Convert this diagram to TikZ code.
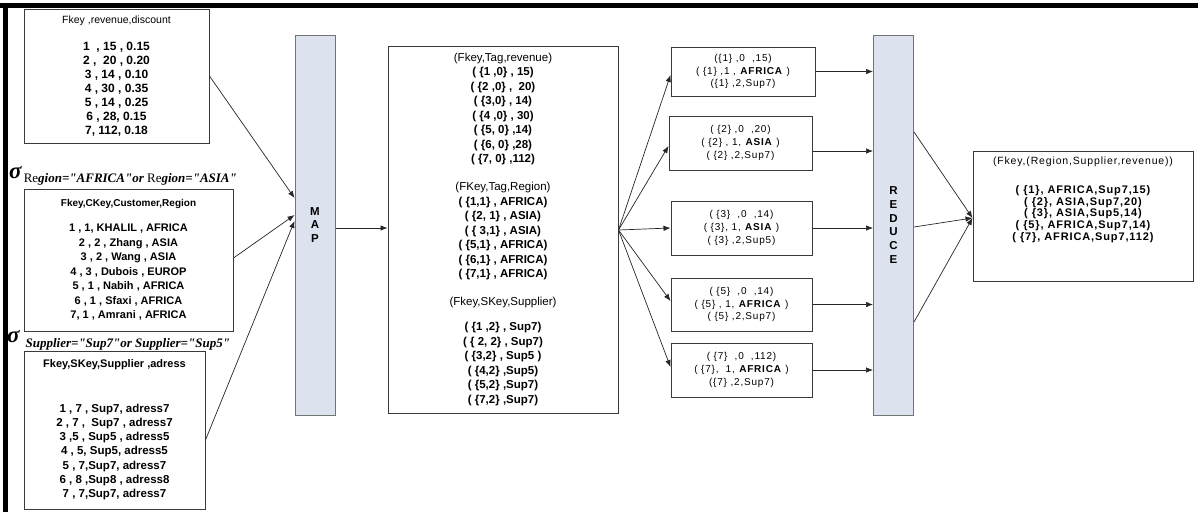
\documentclass[tikz,border=0pt]{standalone}
\usepackage{fontspec}
\setmainfont{Liberation Sans}
\newfontfamily\wide{Liberation Sans}[LetterSpace=8]
\newfontfamily\sigfont{Liberation Serif}
\usetikzlibrary{arrows.meta}
\definecolor{barfill}{HTML}{DDE3EE}
\definecolor{edge}{HTML}{3A3A3A}
\begin{document}
\begin{tikzpicture}[x=1pt,y=-1pt,
  box/.style={draw=edge, line width=1pt, fill=white, inner sep=0pt, align=center},
  bar/.style={draw=black!55, line width=1pt, fill=barfill, inner sep=0pt, align=center,
              minimum width=40pt, minimum height=380pt, font=\bfseries\fontsize{11.5}{13.8}\selectfont},
  arr/.style={-{Latex[length=7pt,width=5.5pt]}, line width=0.7pt, draw=black!85},
  sig/.style={anchor=west, inner sep=0pt, font=\sigfont\bfseries\itshape\fontsize{13}{14}\selectfont}
]
\useasboundingbox (0,0) rectangle (1198,512);
\fill[white] (0,0) rectangle (1198,512);
% frame
\draw[line width=5pt] (0,5) -- (1198,5);
\draw[line width=5pt] (5,2.5) -- (5,512);

% input tables
\node[box, minimum width=185pt, minimum height=134pt,
      font=\bfseries\fontsize{12}{14}\selectfont] (t1) at (116.5,76)
  {{\mdseries\fontsize{10.5}{14}\selectfont Fkey ,revenue,discount}\\[13pt]
   1\ \ , 15 , 0.15\\ 2 ,\ \ 20 , 0.20\\ 3 , 14 , 0.10\\ 4 , 30 , 0.35\\
   5 , 14 , 0.25\\ 6 , 28, 0.15\\ 7, 112, 0.18};

\node[sig] (s1) at (9,176) {{\fontsize{23}{23}\selectfont σ}\,\raisebox{-4pt}{{\mdseries\upshape Re}gion="AFRICA"or {\mdseries\upshape Re}gion="ASIA"}};

\node[box, minimum width=209pt, minimum height=142pt,
      font=\bfseries\fontsize{11}{14.5}\selectfont] (t2) at (128.5,260)
  {{\fontsize{10}{14.5}\selectfont Fkey,CKey,Customer,Region}\\[10.5pt]
   1 , 1, KHALIL , AFRICA\\ 2 , 2 , Zhang , ASIA\\ 3 , 2 , Wang , ASIA\\
   4 , 3 , Dubois , EUROP\\ 5 , 1 , Nabih , AFRICA\\ 6 , 1 , Sfaxi , AFRICA\\
   7, 1 , Amrani , AFRICA};

\node[sig] (s2) at (7,340) {{\fontsize{23}{23}\selectfont σ}\hspace{6pt}\raisebox{-5pt}{Supplier="Sup7"or Supplier="Sup5"}};

\node[box, minimum width=181pt, minimum height=158pt,
      font=\bfseries\fontsize{11.5}{14.3}\selectfont] (t3) at (114.5,430)
  {{\fontsize{11}{14.3}\selectfont Fkey,SKey,Supplier ,adress}\\[30pt]
   1 , 7 , Sup7, adress7\\ 2 , 7 ,\ \ Sup7 , adress7\\ 3 ,5 , Sup5 , adress5\\
   4 , 5, Sup5, adress5\\ 5 , 7,Sup7, adress7\\ 6 , 8 ,Sup8 , adress8\\
   7 , 7,Sup7, adress7};

% MAP
\node[bar] (map) at (315,225) {M\\A\\P};

% intermediate table
\node[box, minimum width=230pt, minimum height=367pt,
      font=\bfseries\fontsize{11.5}{14.5}\selectfont] (mid) at (503,229.5)
  {{\mdseries (Fkey,Tag,revenue)}\\
   ( \{1 ,0\} , 15)\\ ( \{2 ,0\} ,\ \ 20)\\ ( \{3,0\} , 14)\\ ( \{4 ,0\} , 30)\\
   ( \{5, 0\} ,14)\\ ( \{6, 0\} ,28)\\ ( \{7, 0\} ,112)\\[13.5pt]
   {\mdseries (FKey,Tag,Region)}\\
   ( \{1,1\} , AFRICA)\\ ( \{2, 1\} , ASIA)\\ ( \{ 3,1\} , ASIA)\\
   ( \{5,1\} , AFRICA)\\ ( \{6,1\} , AFRICA)\\ ( \{7,1\} , AFRICA)\\[13.5pt]
   {\mdseries (Fkey,SKey,Supplier)}\\[10.5pt]
   ( \{1 ,2\} , Sup7)\\ ( \{ 2, 2\} , Sup7)\\ ( \{3,2\} , Sup5 )\\
   ( \{4,2\} ,Sup5)\\ ( \{5,2\} ,Sup7)\\ ( \{7,2\} ,Sup7)};

% shuffled groups
\tikzset{grp/.style={box, font=\wide\fontsize{10}{12.8}\selectfont}}
\node[grp, minimum width=144pt, minimum height=49pt] (g1) at (743,71.5)
  {(\{1\} ,0\ \ ,15)\\ ( \{1\} ,1 , \textbf{AFRICA} )\\ (\{1\} ,2,Sup7)};
\node[grp, minimum width=143pt, minimum height=54pt] (g2) at (740.5,143)
  {( \{2\} ,0\ \ ,20)\\ ( \{2\} , 1, \textbf{ASIA} )\\ ( \{2\} ,2,Sup7)};
\node[grp, minimum width=141pt, minimum height=54pt] (g3) at (741.5,228)
  {( \{3\}\ \ ,0\ \ ,14)\\ ( \{3\}, 1, \textbf{ASIA} )\\ ( \{3\} ,2,Sup5)};
\node[grp, minimum width=141pt, minimum height=53pt] (g4) at (741.5,304.5)
  {( \{5\}\ \ ,0\ \ ,14)\\ ( \{5\} , 1, \textbf{AFRICA} )\\ ( \{5\} ,2,Sup7)};
\node[grp, minimum width=141pt, minimum height=54pt] (g5) at (741.5,370)
  {( \{7\}\ \ ,0\ \ ,112)\\ ( \{7\},\ \ 1, \textbf{AFRICA} )\\ (\{7\} ,2,Sup7)};

% REDUCE
\node[bar] (red) at (893.5,225) {R\\E\\D\\U\\C\\E};

% result
\node[box, minimum width=220pt, minimum height=130pt] (fin) at (1083,216) {};
\node[anchor=north, inner sep=0pt, align=center,
      font=\wide\bfseries\fontsize{11}{11.7}\selectfont] (fintext) at ([yshift=-6pt]fin.north)
  {{\mdseries\fontsize{10.5}{11.7}\selectfont (Fkey,(Region,Supplier,revenue))}\\[17.4pt]
   ( \{1\}, AFRICA,Sup7,15)\\ ( \{2\}, ASIA,Sup7,20)\\ ( \{3\}, ASIA,Sup5,14)\\
   ( \{5\}, AFRICA,Sup7,14)\\ ( \{7\}, AFRICA,Sup7,112)};

% connectors
\draw[arr] (t1.east) -- ([yshift=27pt]map.west);
\draw[arr] ([yshift=2pt]t2.east) -- ([yshift=10pt]map.west);
\draw[arr] ([yshift=-10pt]t3.east) -- ([yshift=4pt]map.west);
\draw[arr] ([yshift=-3pt]map.east) -- ([yshift=-3pt]map.east -| mid.west);
\coordinate (fan) at ([yshift=-0.5pt]mid.east);
\draw[arr] (fan) -- ([yshift=-3.5pt]g1.west);
\draw[arr] (fan) -- ([yshift=-3pt]g2.west);
\draw[arr] (fan) -- (g3.west);
\draw[arr] (fan) -- ([yshift=3.5pt]g4.west);
\draw[arr] (fan) -- ([yshift=3pt]g5.west);
\draw[arr] (g1.east) -- (g1.east -| red.west);
\draw[arr] ([yshift=-8pt]g2.east) -- ([yshift=-8pt]g2.east -| red.west);
\draw[arr] (g3.east) -- (g3.east -| red.west);
\draw[arr] (g4.east) -- (g4.east -| red.west);
\draw[arr] (g5.east) -- (g5.east -| red.west);
\draw[arr] ([yshift=93pt]red.east) -- ([yshift=-2pt]fin.west);
\draw[arr] ([yshift=-2pt]red.east) -- ([yshift=-2pt]fin.west);
\draw[arr] ([yshift=-97pt]red.east) -- ([yshift=-2pt]fin.west);
\end{tikzpicture}
\end{document}
